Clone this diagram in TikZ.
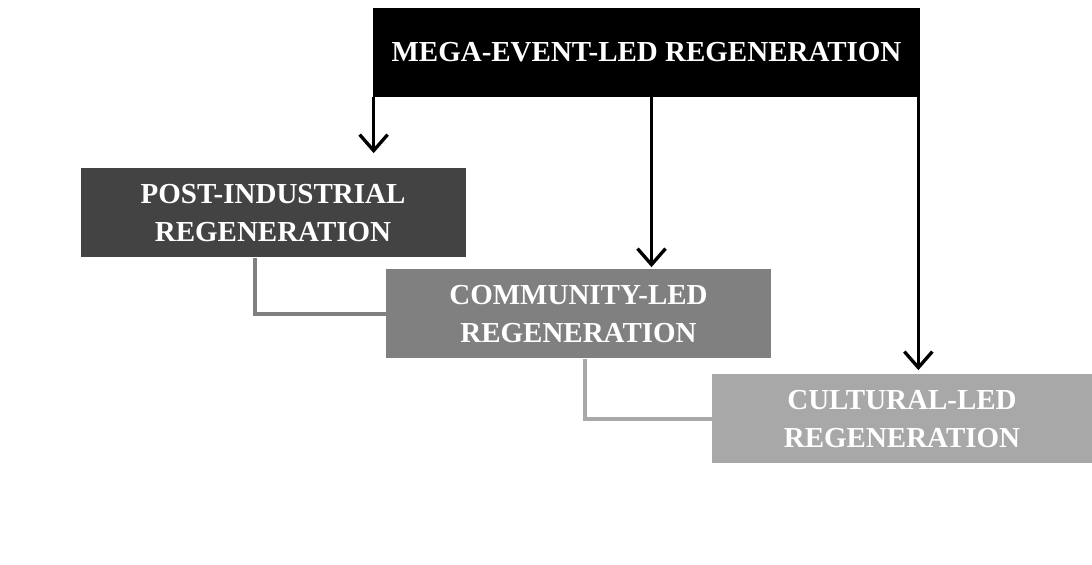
\documentclass[tikz,border=0pt]{standalone}
\usepackage{fontspec}
\setmainfont{Liberation Serif}
\usetikzlibrary{arrows.meta, positioning}

\definecolor{postgrey}{HTML}{434343}
\definecolor{commgrey}{HTML}{808080}
\definecolor{cultgrey}{HTML}{A8A8A8}

\begin{document}
\begin{tikzpicture}
        \tikzset{
            stage/.style={rectangle, text=white, align=center, inner sep=0pt,
                minimum width=7.7cm, minimum height=1.78cm,
                font=\bfseries\fontsize{16.5}{21.5}\selectfont},
            edge/.style={-{Straight Barb[length=0.32cm, width=0.56cm]}, line width=1.9pt},
            link/.style={line width=2.5pt}
        }
        \useasboundingbox (0,0) rectangle (21.84,-11.3);

        % Nodes
        \node[stage, fill=black, minimum width=10.94cm] (mega) at (12.93,-1.05) {MEGA-EVENT-LED REGENERATION};
        \node[stage, fill=postgrey] (post) at (5.46,-4.26) {POST-INDUSTRIAL\\REGENERATION};
        \node[stage, fill=commgrey] (comm) at (11.57,-6.28) {COMMUNITY-LED\\REGENERATION};
        \node[stage, fill=cultgrey, minimum width=7.6cm] (cult) at (18.04,-8.38) {CULTURAL-LED\\REGENERATION};

        % Edges
        \draw[edge, shorten >=0.3cm] ([xshift=0.02cm]mega.south west) -- ([xshift=0.02cm]mega.south west |- post.north);
        \draw[edge, shorten >=0.04cm] ([xshift=0.1cm]mega.south) -- ([xshift=0.1cm]mega.south |- comm.north);
        \draw[edge, shorten >=0.08cm] ([xshift=-0.04cm]mega.south east) -- ([xshift=-0.04cm]mega.south east |- cult.north);
        \draw[link, draw=commgrey] ([xshift=-0.36cm]post.south) |- (comm.west);
        \draw[link, draw=cultgrey] ([xshift=0.13cm]comm.south) |- (cult.west);
    \end{tikzpicture}
\end{document}
